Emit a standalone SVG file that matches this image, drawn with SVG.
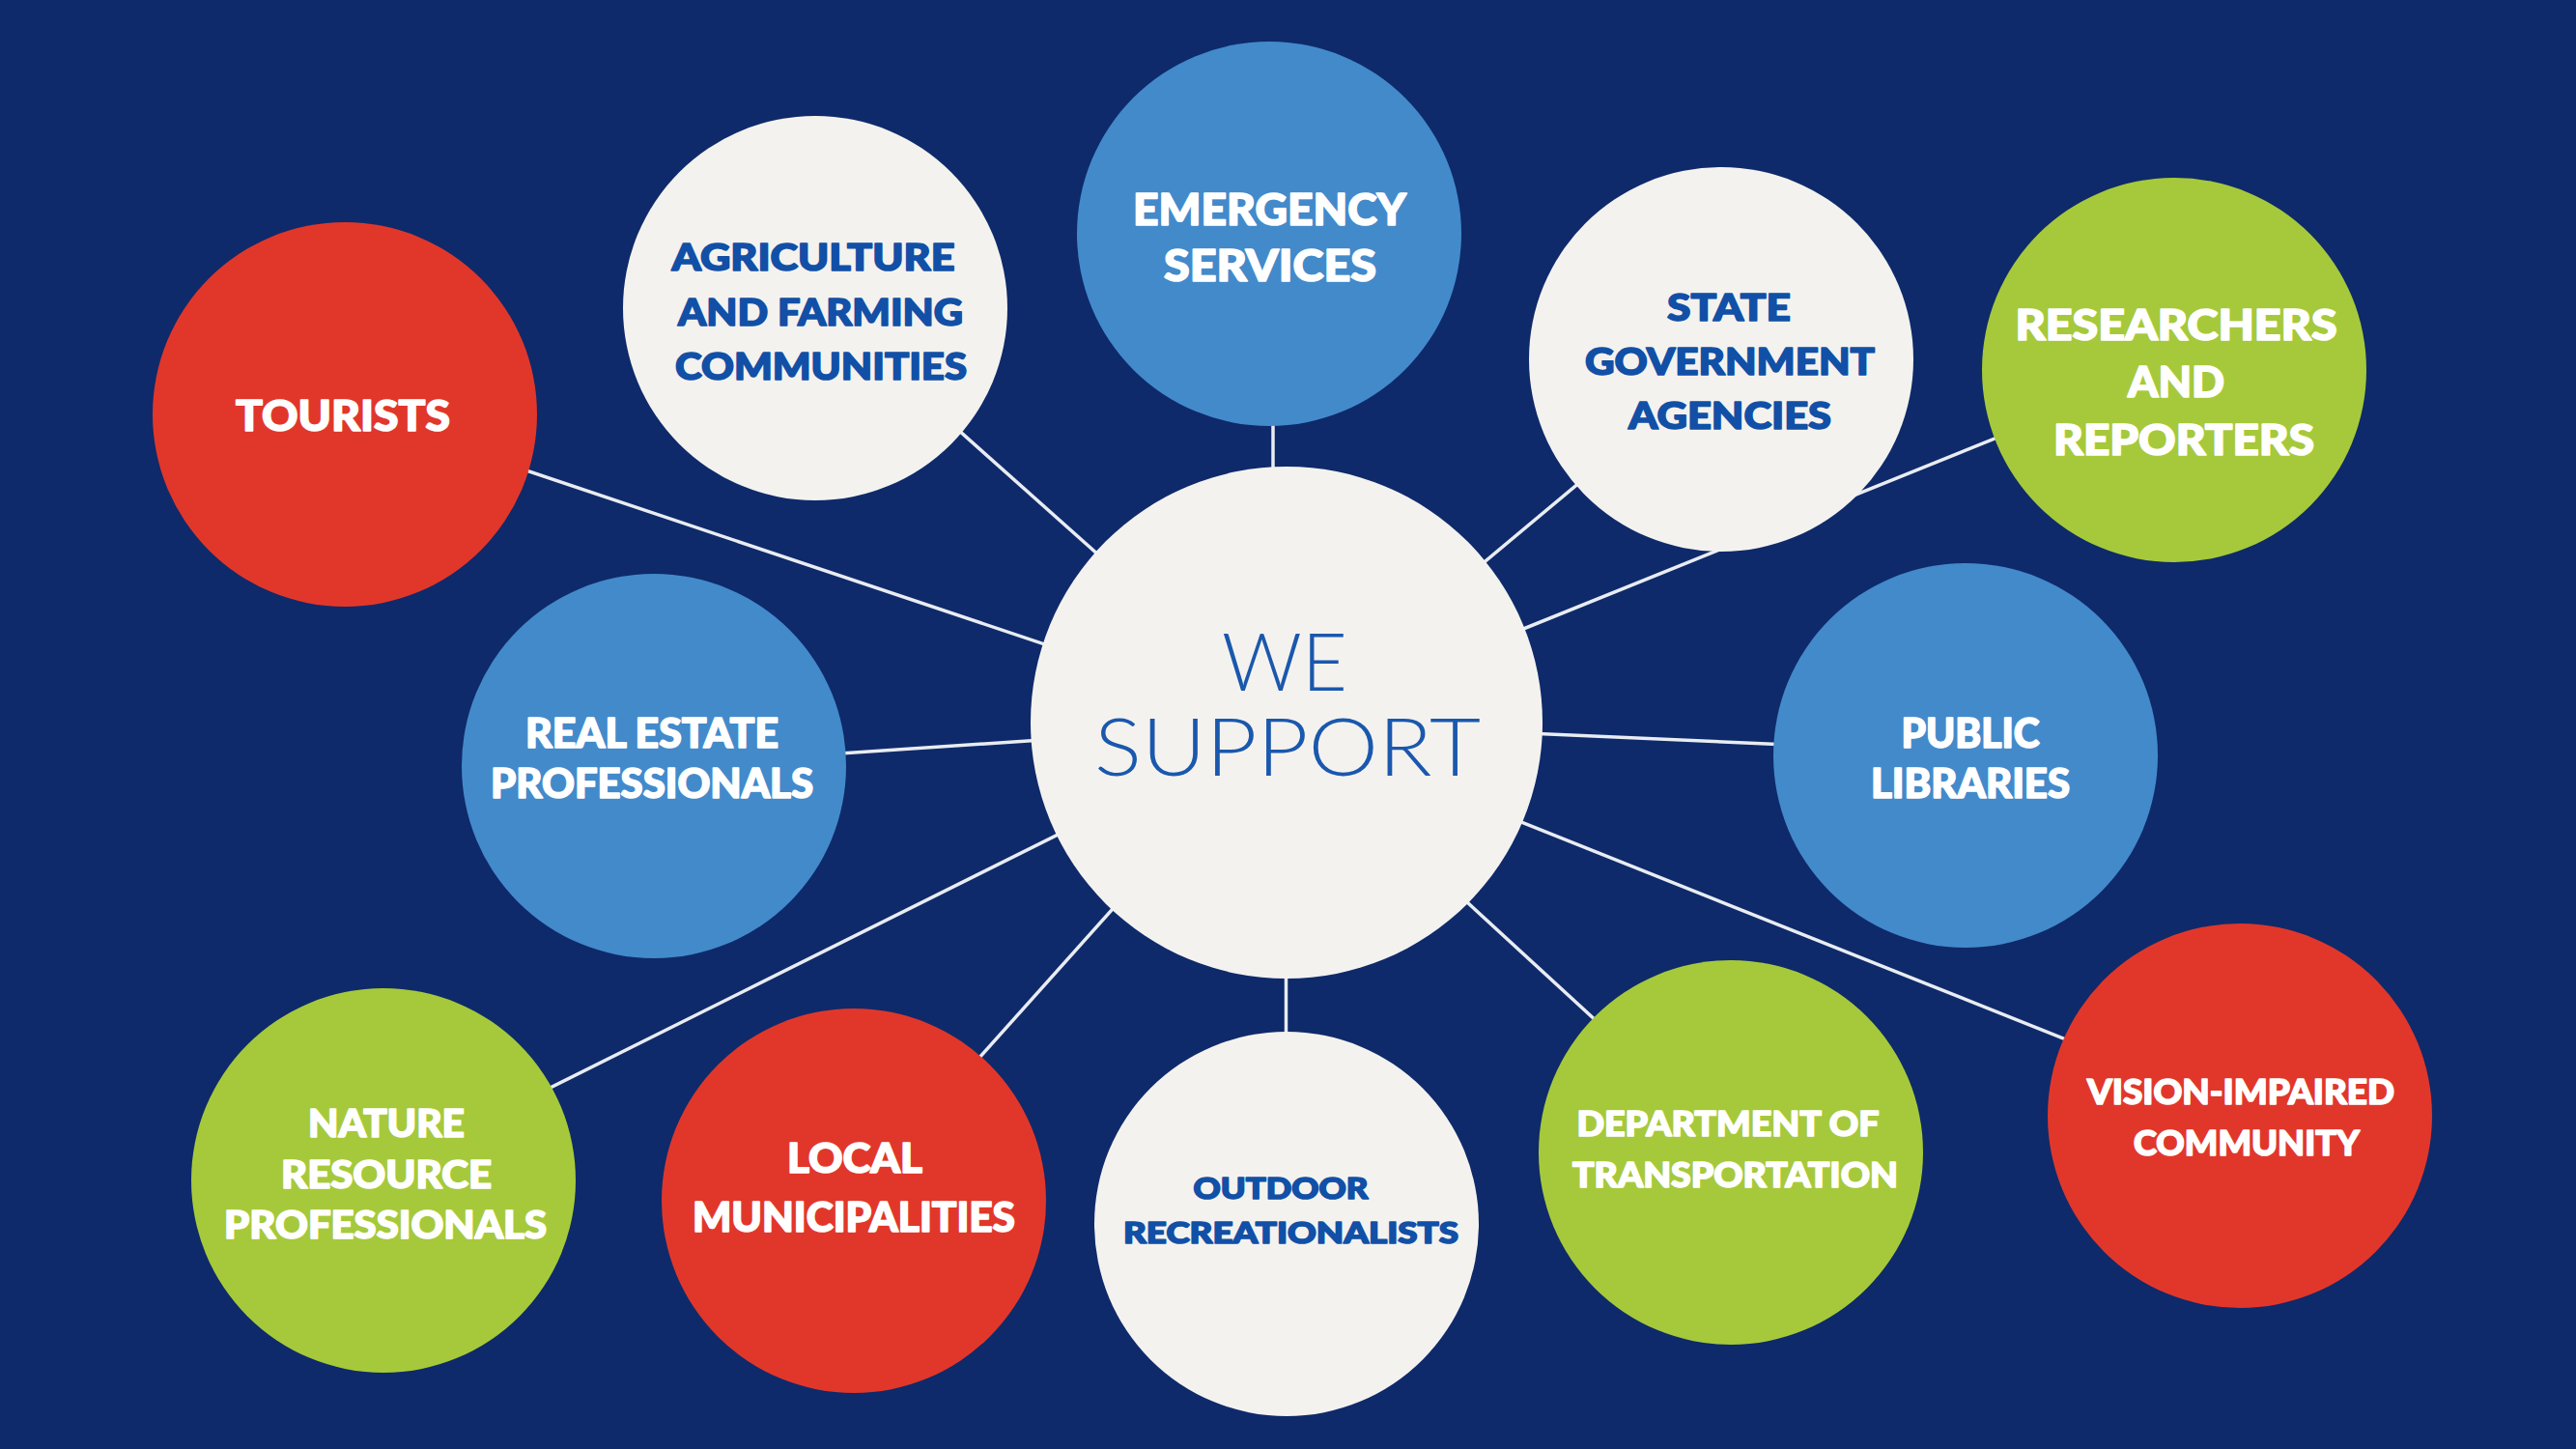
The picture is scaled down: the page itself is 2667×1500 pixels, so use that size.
<svg xmlns="http://www.w3.org/2000/svg" width="2667" height="1500" viewBox="0 0 2667 1500">
<style>
.bg{fill:#0e2a6a}
.red{fill:#e1372b}
.green{fill:#a6c93b}
.blue{fill:#438acb}
.white{fill:#f4f2ef}
.conn line{stroke:#e9ecf2;stroke-width:3.5;stroke-linecap:round}
.lbl{font-family:Lato,"Liberation Sans","DejaVu Sans",sans-serif;font-weight:900;text-anchor:middle;stroke-width:1.6;stroke-linejoin:round}
.lw{fill:#ffffff;stroke:#ffffff}
.lb{fill:#1150a6;stroke:#1150a6}
.hub{font-family:Lato,"Liberation Sans","DejaVu Sans",sans-serif;font-weight:300;text-anchor:middle;fill:#1a58ad}
</style>
<rect class="bg" x="0" y="0" width="2667" height="1500"/>
<g id="connectors" class="conn">
<line x1="357" y1="424" x2="1332" y2="751"/>
<line x1="844" y1="313" x2="1332" y2="748"/>
<line x1="1318" y1="242" x2="1318" y2="748"/>
<line x1="1782" y1="377" x2="1332" y2="753"/>
<line x1="2251" y1="379" x2="1332" y2="750"/>
<line x1="677" y1="793" x2="1332" y2="749"/>
<line x1="1332" y1="748" x2="2035" y2="779"/>
<line x1="397" y1="1212" x2="1332" y2="746"/>
<line x1="884" y1="1240" x2="1332" y2="740"/>
<line x1="1331.5" y1="748" x2="1331.5" y2="1267"/>
<line x1="1332" y1="762" x2="1792" y2="1185"/>
<line x1="1332" y1="754" x2="2319" y2="1148"/>
</g>
<g id="hub">
<circle class="white" cx="1332" cy="748" r="265"/>
<text class="hub" font-size="83"><tspan x="1330" y="715" textLength="130" lengthAdjust="spacingAndGlyphs">WE</tspan><tspan x="1333" y="803" textLength="400" lengthAdjust="spacingAndGlyphs">SUPPORT</tspan></text>
</g>
<g id="tourists">
<circle class="red" cx="357" cy="429" r="199"/>
<text class="lbl lw" x="355" y="446" font-size="44.5" textLength="222" lengthAdjust="spacingAndGlyphs">TOURISTS</text>
</g>
<g id="agriculture">
<circle class="white" cx="844" cy="319" r="199"/>
<text class="lbl lb" x="842" y="280" font-size="38" textLength="293" lengthAdjust="spacingAndGlyphs">AGRICULTURE</text>
<text class="lbl lb" x="849.5" y="337" font-size="38" textLength="295" lengthAdjust="spacingAndGlyphs">AND FARMING</text>
<text class="lbl lb" x="850" y="393" font-size="38" textLength="302" lengthAdjust="spacingAndGlyphs">COMMUNITIES</text>
</g>
<g id="emergency">
<circle class="blue" cx="1314" cy="242" r="199"/>
<text class="lbl lw" x="1314.5" y="233" font-size="45" textLength="283" lengthAdjust="spacingAndGlyphs">EMERGENCY</text>
<text class="lbl lw" x="1315" y="291" font-size="45" textLength="220" lengthAdjust="spacingAndGlyphs">SERVICES</text>
</g>
<g id="state-government">
<circle class="white" cx="1782" cy="372" r="199"/>
<text class="lbl lb" x="1790" y="332" font-size="38.5" textLength="128" lengthAdjust="spacingAndGlyphs">STATE</text>
<text class="lbl lb" x="1791" y="388" font-size="38.5" textLength="300" lengthAdjust="spacingAndGlyphs">GOVERNMENT</text>
<text class="lbl lb" x="1791" y="444" font-size="38.5" textLength="210" lengthAdjust="spacingAndGlyphs">AGENCIES</text>
</g>
<g id="researchers">
<circle class="green" cx="2251" cy="383" r="199"/>
<text class="lbl lw" x="2253" y="352" font-size="43" textLength="333" lengthAdjust="spacingAndGlyphs">RESEARCHERS</text>
<text class="lbl lw" x="2253" y="411" font-size="43" textLength="100" lengthAdjust="spacingAndGlyphs">AND</text>
<text class="lbl lw" x="2261" y="471" font-size="43" textLength="270" lengthAdjust="spacingAndGlyphs">REPORTERS</text>
</g>
<g id="real-estate">
<circle class="blue" cx="677" cy="793" r="199"/>
<text class="lbl lw" x="675" y="774" font-size="41.5" textLength="262" lengthAdjust="spacingAndGlyphs">REAL ESTATE</text>
<text class="lbl lw" x="675" y="826" font-size="41.5" textLength="334" lengthAdjust="spacingAndGlyphs">PROFESSIONALS</text>
</g>
<g id="public-libraries">
<circle class="blue" cx="2035" cy="782" r="199"/>
<text class="lbl lw" x="2040" y="774" font-size="41.5" textLength="143" lengthAdjust="spacingAndGlyphs">PUBLIC</text>
<text class="lbl lw" x="2040" y="826" font-size="41.5" textLength="206" lengthAdjust="spacingAndGlyphs">LIBRARIES</text>
</g>
<g id="nature-resource">
<circle class="green" cx="397" cy="1222" r="199"/>
<text class="lbl lw" x="400" y="1177" font-size="39" textLength="162" lengthAdjust="spacingAndGlyphs">NATURE</text>
<text class="lbl lw" x="400" y="1230" font-size="39" textLength="218" lengthAdjust="spacingAndGlyphs">RESOURCE</text>
<text class="lbl lw" x="399" y="1282" font-size="39" textLength="334" lengthAdjust="spacingAndGlyphs">PROFESSIONALS</text>
</g>
<g id="local-municipalities">
<circle class="red" cx="884" cy="1243" r="199"/>
<text class="lbl lw" x="885" y="1214" font-size="42" textLength="140" lengthAdjust="spacingAndGlyphs">LOCAL</text>
<text class="lbl lw" x="884" y="1275" font-size="42" textLength="334" lengthAdjust="spacingAndGlyphs">MUNICIPALITIES</text>
</g>
<g id="outdoor">
<circle class="white" cx="1332" cy="1267" r="199"/>
<text class="lbl lb" x="1326" y="1241" font-size="31" textLength="181" lengthAdjust="spacingAndGlyphs">OUTDOOR</text>
<text class="lbl lb" x="1336.5" y="1287" font-size="31" textLength="347" lengthAdjust="spacingAndGlyphs">RECREATIONALISTS</text>
</g>
<g id="transportation">
<circle class="green" cx="1792" cy="1193" r="199"/>
<text class="lbl lw" x="1789" y="1176" font-size="35.5" textLength="313" lengthAdjust="spacingAndGlyphs">DEPARTMENT OF</text>
<text class="lbl lw" x="1796.5" y="1229" font-size="35.5" textLength="337" lengthAdjust="spacingAndGlyphs">TRANSPORTATION</text>
</g>
<g id="vision-impaired">
<circle class="red" cx="2319" cy="1155" r="199"/>
<text class="lbl lw" x="2320" y="1143" font-size="36" textLength="318" lengthAdjust="spacingAndGlyphs">VISION-IMPAIRED</text>
<text class="lbl lw" x="2326" y="1196" font-size="36" textLength="234" lengthAdjust="spacingAndGlyphs">COMMUNITY</text>
</g>
</svg>
